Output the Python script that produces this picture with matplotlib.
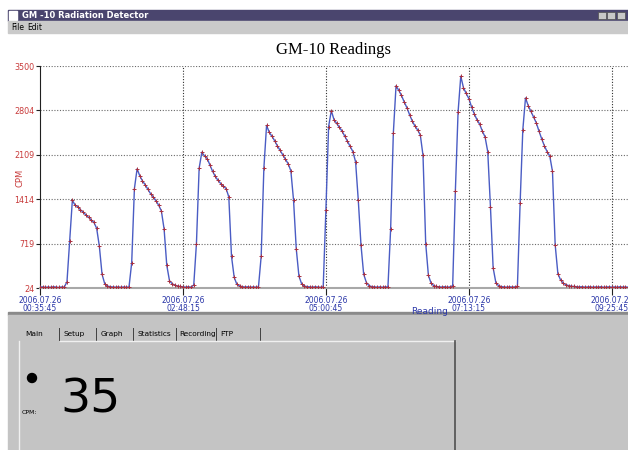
import matplotlib
matplotlib.use('Agg')
import matplotlib.pyplot as plt
from matplotlib.patches import Rectangle, Circle

# counts per minute, one reading every 2.5 minutes starting 2006.07.26 00:35:45
cpm = [
    38, 42, 35, 40, 36, 44, 38, 33, 41, 39,                          # 0
    120, 760, 1400, 1320, 1300, 1250, 1210, 1170, 1130, 1090,        # 10
    1050, 960, 680, 240, 90, 55, 45, 40, 38, 42,                     # 20
    36, 41, 37, 40, 420, 1580, 1890, 1780, 1700, 1640,               # 30
    1570, 1500, 1450, 1390, 1320, 1230, 950, 380, 140, 90,           # 40
    70, 55, 48, 42, 39, 44, 38, 70, 720, 1900,                       # 50
    2150, 2090, 2050, 1950, 1850, 1770, 1710, 1660, 1620, 1580,      # 60
    1450, 520, 190, 80, 55, 45, 40, 43, 37, 41,                      # 70
    38, 42, 520, 1900, 2570, 2460, 2400, 2330, 2250, 2180,           # 80
    2110, 2040, 1970, 1860, 1400, 640, 210, 90, 55, 46,              # 90
    41, 38, 43, 39, 36, 42, 1250, 2550, 2800, 2660,                  # 100
    2600, 2540, 2480, 2400, 2320, 2240, 2160, 2000, 1400, 700,       # 110
    240, 110, 60, 46, 42, 38, 41, 37, 43, 40,                        # 120
    950, 2450, 3190, 3120, 3040, 2940, 2850, 2740, 2640, 2560,       # 130
    2500, 2420, 2100, 720, 220, 100, 60, 48, 42, 39,                 # 140
    44, 37, 41, 60, 1550, 2780, 3340, 3160, 3070, 2990,              # 150
    2860, 2750, 2660, 2590, 2480, 2390, 2160, 1300, 340, 110,        # 160
    60, 46, 41, 38, 43, 39, 42, 48, 1350, 2500,                      # 170
    3000, 2880, 2790, 2700, 2610, 2480, 2360, 2250, 2160, 2090,      # 180
    1850, 700, 250, 150, 100, 75, 62, 52, 48, 45,                    # 190
    41, 44, 38, 40, 43, 37, 41, 39, 44, 36,                          # 200
    40, 42, 38, 41, 37, 43, 39, 40, 38,                              # 210
]
tick_readings = [0, 53, 106, 159, 212]
tick_labels = ['2006.07.26\n00:35:45', '2006.07.26\n02:48:15', '2006.07.26\n05:00:45',
               '2006.07.26\n07:13:15', '2006.07.26\n09:25:45']
y_ticks = [24, 719, 1414, 2109, 2804, 3500]
current_cpm = '35'

red = '#c83a3a'
blue = '#2a36a8'

fig = plt.figure(figsize=(6.28, 4.5), dpi=100, facecolor='white')

# window chrome, drawn in pixel coordinates
bg = fig.add_axes([0, 0, 1, 1], zorder=0)
bg.set_xlim(0, 628)
bg.set_ylim(450, 0)
bg.axis('off')
bg.add_patch(Rectangle((8, 10), 620, 11, color='#4a456e'))
bg.add_patch(Rectangle((9, 11), 8, 9, color='white'))
bg.text(22, 15.5, 'GM -10 Radiation Detector', color='white', fontsize=6, weight='bold', va='center')
for bx in [598, 607, 617]:
    bg.add_patch(Rectangle((bx, 12), 8, 7, facecolor='#c8c8c8', edgecolor='#505050', lw=0.5))
bg.add_patch(Rectangle((8, 21), 620, 12, color='#cacaca'))
bg.text(11, 27, 'File', fontsize=5.5, va='center')
bg.text(27, 27, 'Edit', fontsize=5.5, va='center')
bg.text(333, 50, 'GM-10 Readings', family='Liberation Serif', fontsize=12, ha='center', va='center')

bg.add_patch(Rectangle((8, 312), 620, 3, color='#8a8a8a'))
bg.add_patch(Rectangle((8, 315), 620, 135, color='#c4c4c4'))
tabs = ['Main', 'Setup', 'Graph', 'Statistics', 'Recording', 'FTP']
tab_x = [25, 63, 101, 137, 179, 220]
for t, tx in zip(tabs, tab_x):
    bg.text(tx, 334, t, fontsize=5.3, va='center')
for sx in [59, 96, 133, 176, 216, 260]:
    bg.plot([sx, sx], [328, 340], color='#404040', lw=0.7)
bg.plot([60, 455], [341, 341], color='#f0f0f0', lw=1)
bg.plot([19, 19], [341, 450], color='#f0f0f0', lw=1)
bg.plot([455, 455], [341, 450], color='#505050', lw=1.2)
bg.add_patch(Circle((32, 378), 4.5, color='black'))
bg.text(60, 400, current_cpm, fontsize=34, va='center', ha='left')
bg.text(22, 413, 'CPM:', fontsize=4.5, va='center')
bg.text(430, 311, 'Reading', fontsize=6.5, color=blue, ha='center', va='center')
bg.text(20, 178, 'CPM', fontsize=6, color=red, rotation=90, ha='center', va='center')

# chart
ax = fig.add_axes([40 / 628, 1 - 288 / 450, 588 / 628, 222 / 450], zorder=1)
ax.set_facecolor('none')
ax.plot(range(len(cpm)), cpm, color='#4a5cc4', lw=1, marker='+', ms=3, mew=0.7, mec='#a83040', zorder=3)
ax.set_xlim(0, 218)
ax.set_ylim(24, 3500)
ax.set_yticks(y_ticks)
ax.set_yticklabels([str(v) for v in y_ticks], color=red, fontsize=5.8)
ax.set_xticks(tick_readings)
ax.set_xticklabels(tick_labels, color=blue, fontsize=5.5, linespacing=0.8)
ax.tick_params(axis='y', length=3, pad=1, color='#202020')
ax.tick_params(axis='x', length=5, pad=1, color='#202020')
for v in y_ticks:
    ax.axhline(v, color='#6a6a6a', lw=0.8, ls=(0, (1, 1.5)), zorder=1)
for r in tick_readings[1:]:
    ax.axvline(r, color='#303030', lw=0.8, ls=(0, (1, 1.5)), zorder=1)
ax.spines['top'].set_visible(False)
ax.spines['right'].set_visible(False)
ax.spines['left'].set_color('#202020')
ax.spines['bottom'].set_color('#a8a8a8')
ax.spines['bottom'].set_linewidth(1.5)

fig.savefig('out.png', dpi=100)
